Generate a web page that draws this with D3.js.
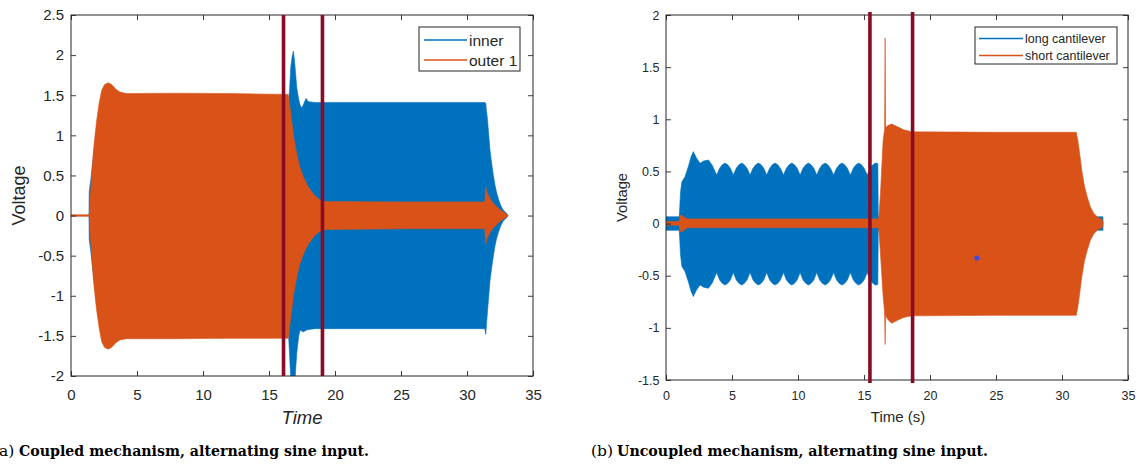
<!DOCTYPE html>
<html><head><meta charset="utf-8">
<script src="https://cdn.jsdelivr.net/npm/d3@7/dist/d3.min.js"></script>
<style>body{margin:0;background:#fff;}svg{display:block;}</style>
</head><body>
<svg id="c" width="1142" height="465"></svg>
<script>
// ---------- Panel (a): coupled mechanism (signal envelopes: max / min per time) ----------
const xTicks = [0, 5, 10, 15, 20, 25, 30, 35];
const yTicksA = [-2, -1.5, -1, -0.5, 0, 0.5, 1, 1.5, 2, 2.5];
const yTicksB = [-1.5, -1, -0.5, 0, 0.5, 1, 1.5, 2];

const tInner = [0, 1.36, 1.38, 1.5, 1.7, 2.0, 2.4, 16.45, 16.55, 16.65, 16.75, 16.85, 16.95, 17.1, 17.25, 17.35, 17.48, 17.6, 17.8, 18.0, 18.5, 25.0, 31.35, 31.42, 31.48, 31.55, 31.65, 31.74, 31.87, 32.0, 32.12, 32.25, 32.4, 32.55, 32.7, 32.85, 33.0, 33.1];
const innerMax = [0, 0, 0.3, 0.45, 0.75, 1.15, 1.4, 1.4, 1.55, 1.85, 1.98, 2.05, 1.9, 1.6, 1.45, 1.38, 1.34, 1.38, 1.46, 1.42, 1.41, 1.41, 1.41, 1.4, 1.3, 1.2, 1.0, 0.82, 0.65, 0.5, 0.38, 0.28, 0.2, 0.13, 0.08, 0.05, 0.03, 0];
const innerMin = [0, 0, -0.3, -0.45, -0.75, -1.15, -1.4, -1.4, -1.7, -2.05, -2.3, -2.3, -2.1, -1.72, -1.5, -1.43, -1.44, -1.45, -1.43, -1.42, -1.41, -1.41, -1.41, -1.48, -1.35, -1.2, -1.0, -0.82, -0.65, -0.5, -0.38, -0.28, -0.2, -0.13, -0.08, -0.05, -0.03, 0];

const tOuter = [0, 1.39, 1.42, 1.49, 1.59, 1.69, 1.82, 1.95, 2.13, 2.33, 2.55, 2.83, 3.1, 3.4, 3.7, 4.2, 8.0, 12.0, 16.45, 16.55, 16.7, 16.85, 17.0, 17.3, 17.6, 18.0, 18.4, 18.8, 19.2, 25.0, 31.35, 31.42, 31.5, 31.65, 31.8, 32.0, 32.2, 32.4, 32.6, 32.8, 33.0, 33.1];
const outerMax = [0.01, 0.01, 0.15, 0.32, 0.56, 0.78, 1.0, 1.19, 1.4, 1.565, 1.635, 1.655, 1.63, 1.575, 1.54, 1.52, 1.525, 1.52, 1.51, 1.4, 1.2, 1.0, 0.85, 0.62, 0.48, 0.35, 0.26, 0.2, 0.175, 0.17, 0.17, 0.36, 0.3, 0.24, 0.2, 0.15, 0.12, 0.09, 0.06, 0.04, 0.02, 0];
const outerMin = [-0.01, -0.01, -0.15, -0.32, -0.56, -0.78, -1.0, -1.19, -1.4, -1.575, -1.645, -1.665, -1.64, -1.585, -1.55, -1.535, -1.535, -1.53, -1.53, -1.4, -1.2, -1.0, -0.85, -0.62, -0.48, -0.35, -0.26, -0.2, -0.175, -0.165, -0.165, -0.36, -0.3, -0.24, -0.2, -0.15, -0.12, -0.09, -0.06, -0.04, -0.02, 0];

const markersA = [16.1, 19.05];

// ---------- Panel (b): uncoupled mechanism ----------
const tLong = [0, 1.0, 1.04, 1.1, 1.2, 1.44, 1.7, 1.9, 2.07, 2.3, 2.58, 2.85, 3.21, 3.5,
  3.84, 4.06, 4.26, 4.47, 4.68, 4.88,
  5.10, 5.32, 5.52, 5.73, 5.94, 6.14,
  6.37, 6.59, 6.79, 7.00, 7.21, 7.41,
  7.63, 7.85, 8.05, 8.26, 8.47, 8.67,
  8.90, 9.12, 9.32, 9.53, 9.74, 9.94,
  10.16, 10.38, 10.58, 10.79, 11.00, 11.20,
  11.42, 11.64, 11.84, 12.05, 12.26, 12.46,
  12.70, 12.92, 13.12, 13.33, 13.54, 13.74,
  13.97, 14.19, 14.39, 14.60, 14.81, 15.01,
  15.24, 15.46, 15.66, 15.87, 16.05, 16.08, 33.1, 33.12];
const longMax = [0.065, 0.065, 0.15, 0.3, 0.4, 0.45, 0.55, 0.64, 0.69, 0.63, 0.578, 0.6, 0.61, 0.56,
  0.466, 0.53, 0.563, 0.58, 0.563, 0.53,
  0.466, 0.53, 0.563, 0.58, 0.563, 0.53,
  0.466, 0.53, 0.563, 0.58, 0.563, 0.53,
  0.466, 0.53, 0.563, 0.58, 0.563, 0.53,
  0.466, 0.53, 0.563, 0.58, 0.563, 0.53,
  0.466, 0.53, 0.563, 0.58, 0.563, 0.53,
  0.466, 0.53, 0.563, 0.58, 0.563, 0.53,
  0.466, 0.53, 0.563, 0.58, 0.563, 0.53,
  0.466, 0.53, 0.563, 0.58, 0.563, 0.53,
  0.466, 0.53, 0.563, 0.58, 0.575, 0.065, 0.065, 0];
const longMin = [-0.065, -0.065, -0.15, -0.3, -0.41, -0.46, -0.56, -0.65, -0.70, -0.64, -0.59, -0.61, -0.62, -0.57,
  -0.47, -0.54, -0.573, -0.59, -0.573, -0.54,
  -0.47, -0.54, -0.573, -0.59, -0.573, -0.54,
  -0.47, -0.54, -0.573, -0.59, -0.573, -0.54,
  -0.47, -0.54, -0.573, -0.59, -0.573, -0.54,
  -0.47, -0.54, -0.573, -0.59, -0.573, -0.54,
  -0.47, -0.54, -0.573, -0.59, -0.573, -0.54,
  -0.47, -0.54, -0.573, -0.59, -0.573, -0.54,
  -0.47, -0.54, -0.573, -0.59, -0.573, -0.54,
  -0.47, -0.54, -0.573, -0.59, -0.573, -0.54,
  -0.47, -0.54, -0.573, -0.59, -0.585, -0.065, -0.065, 0];

const tShort = [0, 1.0, 1.04, 1.1, 1.25, 1.4, 1.6, 2.5, 5, 8, 11, 14, 16.1, 16.15, 16.25, 16.35, 16.45, 16.56, 16.6, 16.64, 16.8, 17.1, 17.5, 18.0, 18.6, 25.0, 31.08, 31.2, 31.35, 31.5, 31.7, 31.9, 32.15, 32.4, 32.7, 33.05, 33.1];
const shortMax = [0.02, 0.02, 0.06, 0.08, 0.075, 0.06, 0.045, 0.045, 0.045, 0.045, 0.045, 0.045, 0.045, 0.1, 0.3, 0.55, 0.8, 0.9, 1.78, 0.92, 0.94, 0.955, 0.93, 0.9, 0.88, 0.875, 0.875, 0.8, 0.66, 0.51, 0.36, 0.26, 0.16, 0.1, 0.06, 0.04, 0];
const shortMin = [-0.015, -0.015, -0.06, -0.08, -0.075, -0.06, -0.04, -0.04, -0.04, -0.04, -0.04, -0.04, -0.04, -0.1, -0.3, -0.5, -0.7, -0.85, -1.16, -0.88, -0.92, -0.955, -0.93, -0.9, -0.885, -0.88, -0.88, -0.8, -0.66, -0.51, -0.36, -0.26, -0.16, -0.1, -0.06, -0.04, 0];

const markersB = [15.45, 18.68];
const dotT = [23.55];
const dotV = [-0.33];

const seriesNamesA = ["inner", "outer 1"];
const seriesNamesB = ["long cantilever", "short cantilever"];
const captionA = ["(a)", "Coupled mechanism, alternating sine input."];
const captionB = ["(b)", "Uncoupled mechanism, alternating sine input."];

// ---------- drawing ----------
const BLUE = "#0072BD", ORANGE = "#D95319", MARK = "#8A0B25", AX = "#262626";
const FONT = "'Liberation Sans', Arial, Helvetica, sans-serif";
const svg = d3.select("#c");

function panel(cfg) {
  const x = d3.scaleLinear().domain([0, 35]).range([cfg.left, cfg.right]);
  const y = d3.scaleLinear().domain(cfg.yDomain).range([cfg.bottom, cfg.top]);
  const g = svg.append("g");
  const clipId = "clip" + cfg.id;
  g.append("clipPath").attr("id", clipId).append("rect")
    .attr("x", cfg.left).attr("y", cfg.top)
    .attr("width", cfg.right - cfg.left).attr("height", cfg.bottom - cfg.top);
  const plot = g.append("g").attr("clip-path", `url(#${clipId})`);
  cfg.series.forEach(s => {
    const area = d3.area()
      .x(i => x(s.t[i])).y0(i => y(s.min[i])).y1(i => y(s.max[i]));
    plot.append("path").datum(d3.range(s.t.length)).attr("d", area)
      .attr("fill", s.color).attr("stroke", s.color)
      .attr("stroke-width", 0.8).attr("stroke-opacity", 0.75);
  });
  if (cfg.dots) {
    plot.selectAll(null).data(d3.range(cfg.dots.t.length)).join("circle")
      .attr("cx", i => x(cfg.dots.t[i])).attr("cy", i => y(cfg.dots.v[i]))
      .attr("r", 2.6).attr("fill", "#4848d8");
  }
  // axes
  const fmt = d => String(d);
  const styleAxis = sel => {
    sel.select(".domain").remove();
    sel.selectAll(".tick line").attr("stroke", AX).attr("stroke-width", 0.9);
    sel.selectAll(".tick text").attr("fill", AX).style("font-family", FONT).style("font-size", cfg.tickFont + "px");
  };
  g.append("g").attr("transform", `translate(0,${cfg.bottom})`)
    .call(d3.axisBottom(x).tickValues(xTicks).tickFormat(fmt).tickSizeInner(-5).tickSizeOuter(0).tickPadding(cfg.xPad))
    .call(styleAxis);
  g.append("g").attr("transform", `translate(0,${cfg.top})`)
    .call(d3.axisTop(x).tickValues(xTicks).tickFormat("").tickSizeInner(-5).tickSizeOuter(0))
    .call(styleAxis);
  g.append("g").attr("transform", `translate(${cfg.left},0)`)
    .call(d3.axisLeft(y).tickValues(cfg.yTicks).tickFormat(fmt).tickSizeInner(-5).tickSizeOuter(0).tickPadding(cfg.yPad))
    .call(styleAxis);
  g.append("g").attr("transform", `translate(${cfg.right},0)`)
    .call(d3.axisRight(y).tickValues(cfg.yTicks).tickFormat("").tickSizeInner(-5).tickSizeOuter(0))
    .call(styleAxis);
  g.append("rect").attr("x", cfg.left).attr("y", cfg.top)
    .attr("width", cfg.right - cfg.left).attr("height", cfg.bottom - cfg.top)
    .attr("fill", "none").attr("stroke", AX).attr("stroke-width", 1);
  // marker lines
  g.selectAll(null).data(cfg.markers).join("line")
    .attr("x1", d => x(d)).attr("x2", d => x(d))
    .attr("y1", cfg.top - cfg.markExt).attr("y2", cfg.bottom + cfg.markExt)
    .attr("stroke", MARK).attr("stroke-width", 3.6);
  // labels
  g.append("text").attr("x", cfg.xLabel.x).attr("y", cfg.xLabel.y)
    .attr("text-anchor", "middle").attr("fill", AX)
    .style("font-family", FONT).style("font-size", cfg.xLabel.size + "px")
    .style("font-style", cfg.xLabel.italic ? "italic" : "normal").text(cfg.xLabel.text);
  g.append("text").attr("transform", `translate(${cfg.yLabel.x},${(cfg.top + cfg.bottom) / 2}) rotate(-90)`)
    .attr("text-anchor", "middle").attr("fill", AX)
    .style("font-family", FONT).style("font-size", cfg.yLabel.size + "px").text("Voltage");
  // legend
  const L = cfg.legend;
  g.append("rect").attr("x", L.x).attr("y", L.y).attr("width", L.w).attr("height", L.h)
    .attr("fill", "#fff").attr("stroke", AX).attr("stroke-width", 1);
  cfg.series.forEach((s, i) => {
    const yy = L.y + L.first + i * L.step;
    g.append("line").attr("x1", L.x + L.l0).attr("x2", L.x + L.l1).attr("y1", yy).attr("y2", yy)
      .attr("stroke", s.color).attr("stroke-width", 1.4);
    g.append("text").attr("x", L.x + L.tx).attr("y", yy).attr("dy", "0.36em").attr("fill", AX)
      .style("font-family", FONT).style("font-size", L.size + "px").text(s.name);
  });
}

panel({
  id: "A", left: 71, right: 533, top: 15, bottom: 376, yDomain: [-2, 2.5], yTicks: yTicksA,
  tickFont: 15, xPad: 13, yPad: 7, markExt: 0, markers: markersA,
  series: [
    {name: seriesNamesA[0], t: tInner, max: innerMax, min: innerMin, color: BLUE},
    {name: seriesNamesA[1], t: tOuter, max: outerMax, min: outerMin, color: ORANGE}
  ],
  xLabel: {text: "Time", x: 302, y: 424, size: 18.5, italic: true},
  yLabel: {x: 25, size: 18},
  legend: {x: 419, y: 27, w: 101, h: 44, first: 13, step: 20, l0: 5, l1: 48, tx: 50, size: 15.5}
});

panel({
  id: "B", left: 666, right: 1128, top: 15, bottom: 380, yDomain: [-1.5, 2], yTicks: yTicksB,
  tickFont: 12.5, xPad: 11, yPad: 6.5, markExt: 3, markers: markersB,
  series: [
    {name: seriesNamesB[0], t: tLong, max: longMax, min: longMin, color: BLUE},
    {name: seriesNamesB[1], t: tShort, max: shortMax, min: shortMin, color: ORANGE}
  ],
  dots: {t: dotT, v: dotV},
  xLabel: {text: "Time (s)", x: 898, y: 422, size: 15, italic: false},
  yLabel: {x: 626.5, size: 14.7},
  legend: {x: 975, y: 27, w: 142, h: 37, first: 11.5, step: 17, l0: 4, l1: 48, tx: 50, size: 12.5}
});

// captions
const SERIF = "'DejaVu Serif', 'Liberation Serif', serif";
function caption(lbl, txt, x0, x1, x2, yb) {
  svg.append("text").attr("x", x0).attr("y", yb).attr("fill", "#000")
    .style("font-family", SERIF).style("font-size", "15.5px").text(lbl);
  svg.append("text").attr("x", x1).attr("y", yb).attr("fill", "#000")
    .attr("textLength", x2 - x1).attr("lengthAdjust", "spacingAndGlyphs")
    .style("font-family", SERIF).style("font-weight", "bold").style("font-size", "15.5px").text(txt);
}
caption(captionA[0], captionA[1], -7, 19, 369, 456);
caption(captionB[0], captionB[1], 591, 617, 988, 456);
</script>
</body></html>
